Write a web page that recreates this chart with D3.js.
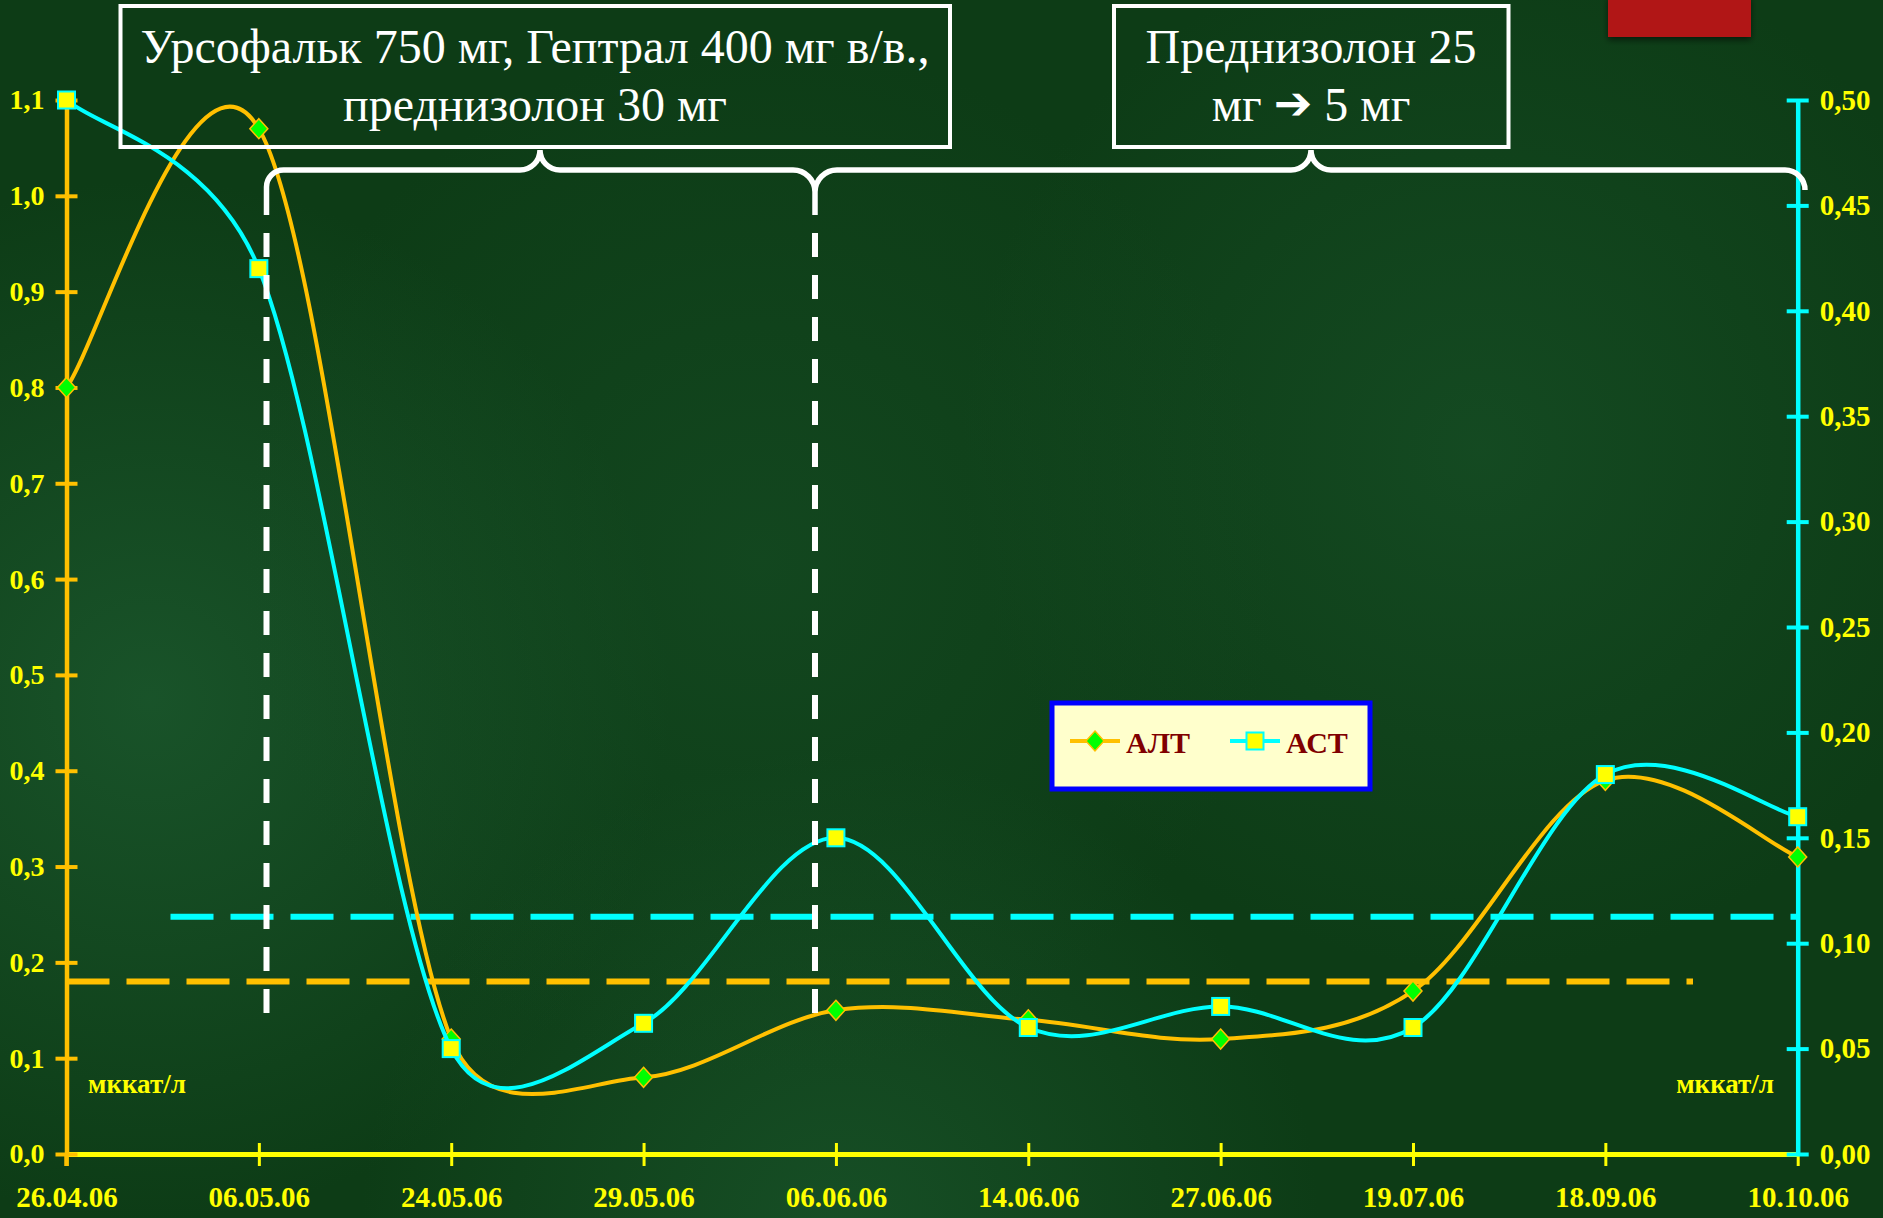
<!DOCTYPE html>
<html>
<head>
<meta charset="utf-8">
<script src="https://cdn.jsdelivr.net/npm/d3@7"></script>
<style>
  html, body { margin: 0; padding: 0; background: #0d3c16; overflow: hidden; }
  svg { display: block; }
</style>
</head>
<body>
<svg id="chart" width="1883" height="1218"></svg>
<script>
// ---- data ----
const dates = ["26.04.06", "06.05.06", "24.05.06", "29.05.06", "06.06.06",
               "14.06.06", "27.06.06", "19.07.06", "18.09.06", "10.10.06"];
const altValues = [0.80, 1.07, 0.12, 0.08, 0.15, 0.14, 0.12, 0.17, 0.39, 0.31];   // АЛТ, left axis
const astValues = [0.50, 0.42, 0.05, 0.062, 0.15, 0.06, 0.07, 0.06, 0.18, 0.16];  // АСТ, right axis
const leftTicks = [0, 0.1, 0.2, 0.3, 0.4, 0.5, 0.6, 0.7, 0.8, 0.9, 1.0, 1.1];
const leftTickLabels = ["0,0", "0,1", "0,2", "0,3", "0,4", "0,5", "0,6", "0,7", "0,8", "0,9", "1,0", "1,1"];
const rightTicks = [0, 0.05, 0.10, 0.15, 0.20, 0.25, 0.30, 0.35, 0.40, 0.45, 0.50];
const rightTickLabels = ["0,00", "0,05", "0,10", "0,15", "0,20", "0,25", "0,30", "0,35", "0,40", "0,45", "0,50"];
const altNorm = 0.18;     // upper normal limit, АЛТ (left scale)
const astNorm = 0.1125;   // upper normal limit, АСТ (right scale)
const unitLabel = "мккат/л";
const seriesNames = ["АЛТ", "АСТ"];
const therapyNotes = [
  ["Урсофальк 750 мг, Гептрал 400 мг в/в.,", "преднизолон 30 мг"],
  ["Преднизолон 25", "мг ➔ 5 мг"]
];

// ---- layout ----
const W = 1883, H = 1218;
const plot = { left: 66.5, right: 1797.7, top: 100, bottom: 1154 };
const GOLD = "#FFC000", CYAN = "#00FFFF", YELLOW = "#FFFF00";
const SERIF = "'Liberation Serif', 'Times New Roman', serif";

const svg = d3.select("#chart");
const defs = svg.append("defs");

// textured green backdrop
const spots = [
  { id: "g1", cx: 150, cy: 700, r: 520, o: 0.75 },
  { id: "g2", cx: 840, cy: 1230, r: 480, o: 0.6 },
  { id: "g3", cx: 1480, cy: 450, r: 520, o: 0.45 },
  { id: "g4", cx: 760, cy: 560, r: 520, o: 0.35 }
];
spots.forEach(s => {
  const g = defs.append("radialGradient").attr("id", s.id)
    .attr("gradientUnits", "userSpaceOnUse")
    .attr("cx", s.cx).attr("cy", s.cy).attr("r", s.r);
  g.append("stop").attr("offset", 0).attr("stop-color", "#1d5b30").attr("stop-opacity", s.o);
  g.append("stop").attr("offset", 1).attr("stop-color", "#1d5b30").attr("stop-opacity", 0);
});
const shadow = defs.append("filter").attr("id", "shadow").attr("x", -0.2).attr("y", -0.5).attr("width", 1.4).attr("height", 2);
shadow.append("feDropShadow").attr("dx", 0).attr("dy", 3).attr("stdDeviation", 3)
  .attr("flood-color", "#000").attr("flood-opacity", 0.55);

svg.append("rect").attr("width", W).attr("height", H).attr("fill", "#0d3c16");
spots.forEach(s => svg.append("rect").attr("width", W).attr("height", H).attr("fill", `url(#${s.id})`));

// red corner tab
svg.append("rect").attr("x", 1608).attr("y", -4).attr("width", 143).attr("height", 41)
  .attr("fill", "#b11616").attr("filter", "url(#shadow)");

// ---- scales ----
const x = d3.scalePoint().domain(dates).range([plot.left, plot.right]).padding(0);
const yL = d3.scaleLinear().domain([0, 1.1]).range([plot.bottom, plot.top]);
const yR = d3.scaleLinear().domain([0, 0.5]).range([plot.bottom, plot.top]);

// ---- reference (norm) lines ----
svg.append("line")
  .attr("x1", plot.left).attr("x2", 1693)
  .attr("y1", yL(altNorm)).attr("y2", yL(altNorm))
  .attr("stroke", GOLD).attr("stroke-width", 6).attr("stroke-dasharray", "43 17");
svg.append("line")
  .attr("x1", 170.5).attr("x2", plot.right)
  .attr("y1", yR(astNorm)).attr("y2", yR(astNorm))
  .attr("stroke", CYAN).attr("stroke-width", 6).attr("stroke-dasharray", "43 17");

// ---- axes ----
const xAxisG = svg.append("g").attr("transform", `translate(0,${plot.bottom})`)
  .call(d3.axisBottom(x).tickSize(0).tickSizeOuter(0).tickPadding(32));
xAxisG.select(".domain").attr("stroke", YELLOW).attr("stroke-width", 5);
xAxisG.selectAll(".tick").append("line")
  .attr("y1", -11).attr("y2", 12).attr("stroke", YELLOW).attr("stroke-width", 3);
xAxisG.selectAll("text").attr("font-family", SERIF).attr("font-weight", "bold")
  .attr("font-size", 29).attr("fill", YELLOW);

const leftAxisG = svg.append("g").attr("transform", `translate(${plot.left},0)`)
  .call(d3.axisLeft(yL).tickValues(leftTicks).tickSize(0).tickSizeOuter(0).tickPadding(22)
    .tickFormat((d, i) => leftTickLabels[i]));
leftAxisG.select(".domain").attr("stroke", GOLD).attr("stroke-width", 4.5);
leftAxisG.append("line").attr("y1", plot.bottom).attr("y2", plot.bottom + 12)
  .attr("stroke", GOLD).attr("stroke-width", 4.5);
leftAxisG.selectAll(".tick").append("line")
  .attr("x1", -11).attr("x2", 11).attr("stroke", GOLD).attr("stroke-width", 4);
leftAxisG.selectAll("text").attr("font-family", SERIF).attr("font-weight", "bold")
  .attr("font-size", 28).attr("fill", YELLOW);

const rightAxisG = svg.append("g").attr("transform", `translate(${plot.right},0)`)
  .call(d3.axisRight(yR).tickValues(rightTicks).tickSize(0).tickSizeOuter(0).tickPadding(22)
    .tickFormat((d, i) => rightTickLabels[i]));
rightAxisG.select(".domain").attr("stroke", CYAN).attr("stroke-width", 4.5);
rightAxisG.selectAll(".tick").append("line")
  .attr("x1", -11).attr("x2", 11).attr("stroke", CYAN).attr("stroke-width", 4);
rightAxisG.selectAll("text").attr("font-family", SERIF).attr("font-weight", "bold")
  .attr("font-size", 29).attr("fill", YELLOW);

// unit captions
svg.append("text").attr("x", 88).attr("y", 1093).text(unitLabel)
  .attr("font-family", SERIF).attr("font-weight", "bold").attr("font-size", 27).attr("fill", YELLOW);
svg.append("text").attr("x", 1774).attr("y", 1093).attr("text-anchor", "end").text(unitLabel)
  .attr("font-family", SERIF).attr("font-weight", "bold").attr("font-size", 27).attr("fill", YELLOW);

// ---- smoothed series (bezier with 1/6 tangents, limited to half a segment) ----
function smoothPath(pts) {
  const p = d3.path();
  p.moveTo(pts[0][0], pts[0][1]);
  const limit = (v, maxLen) => {
    const len = Math.hypot(v[0], v[1]);
    return len > maxLen ? [v[0] * maxLen / len, v[1] * maxLen / len] : v;
  };
  for (let i = 0; i < pts.length - 1; i++) {
    const p0 = pts[i - 1] || pts[i], p1 = pts[i], p2 = pts[i + 1], p3 = pts[i + 2] || pts[i + 1];
    const seg = Math.hypot(p2[0] - p1[0], p2[1] - p1[1]);
    const t1 = limit([(p2[0] - p0[0]) / 6, (p2[1] - p0[1]) / 6], seg / 2);
    const t2 = limit([(p3[0] - p1[0]) / 6, (p3[1] - p1[1]) / 6], seg / 2);
    p.bezierCurveTo(p1[0] + t1[0], p1[1] + t1[1], p2[0] - t2[0], p2[1] - t2[1], p2[0], p2[1]);
  }
  return p.toString();
}

const altPts = dates.map((d, i) => [x(d), yL(altValues[i])]);
const astPts = dates.map((d, i) => [x(d), yR(astValues[i])]);

const diamond = "M0,-10L9,0L0,10L-9,0Z";

svg.append("path").attr("d", smoothPath(altPts)).attr("fill", "none")
  .attr("stroke", GOLD).attr("stroke-width", 4).attr("stroke-linejoin", "round");
svg.append("g").selectAll("path").data(altPts).join("path")
  .attr("transform", d => `translate(${d[0]},${d[1]})`)
  .attr("d", diamond).attr("fill", "#00FF00").attr("stroke", GOLD).attr("stroke-width", 1.5);

svg.append("path").attr("d", smoothPath(astPts)).attr("fill", "none")
  .attr("stroke", CYAN).attr("stroke-width", 4).attr("stroke-linejoin", "round");
svg.append("g").selectAll("rect").data(astPts).join("rect")
  .attr("x", d => d[0] - 8.5).attr("y", d => d[1] - 8.5).attr("width", 17).attr("height", 17)
  .attr("fill", YELLOW).attr("stroke", CYAN).attr("stroke-width", 2);

// ---- therapy annotations: boxes, braces and period dividers ----
const boxes = [
  { x0: 120.5, x1: 950, cx: 535 },
  { x0: 1114, x1: 1508.5, cx: 1311 }
];
boxes.forEach((b, i) => {
  svg.append("rect").attr("x", b.x0).attr("y", 6).attr("width", b.x1 - b.x0).attr("height", 141)
    .attr("fill", "none").attr("stroke", "#fff").attr("stroke-width", 4);
  const t = svg.append("text").attr("text-anchor", "middle").attr("font-family", SERIF)
    .attr("font-size", 48).attr("fill", "#fff");
  therapyNotes[i].forEach((line, j) => {
    const ts = t.append("tspan").attr("x", b.cx).attr("y", j === 0 ? 63 : 121);
    if (line.includes("➔")) {
      const parts = line.split("➔");
      ts.text(parts[0]);
      t.append("tspan").attr("font-family", "'DejaVu Sans', sans-serif").attr("font-weight", "bold")
        .attr("font-size", 46).attr("dy", -2).text("➔");
      t.append("tspan").attr("dy", 2).text(parts[1]);
    } else {
      ts.text(line);
    }
  });
});

const div1 = 266.5, div2 = 815, tip1 = 540, tip2 = 1311, braceY = 170, tipY = 147, endX = 1805;
const brace = d3.path();
// first brace
brace.moveTo(div1, 215);
brace.lineTo(div1, braceY + 17);
brace.arcTo(div1, braceY, div1 + 17, braceY, 17);
brace.lineTo(tip1 - 20, braceY);
brace.arcTo(tip1, braceY, tip1, tipY, 20);
brace.moveTo(tip1, tipY + 3);
brace.arcTo(tip1, braceY, tip1 + 20, braceY, 20);
brace.lineTo(div2 - 22, braceY);
brace.arcTo(div2, braceY, div2, braceY + 22, 22);
brace.lineTo(div2, 215);
// second brace
brace.moveTo(div2, braceY + 22);
brace.arcTo(div2, braceY, div2 + 22, braceY, 22);
brace.lineTo(tip2 - 20, braceY);
brace.arcTo(tip2, braceY, tip2, tipY, 20);
brace.moveTo(tip2, tipY + 3);
brace.arcTo(tip2, braceY, tip2 + 20, braceY, 20);
brace.lineTo(endX - 20, braceY);
brace.arcTo(endX, braceY, endX, braceY + 20, 20);
svg.append("path").attr("d", brace.toString()).attr("fill", "none")
  .attr("stroke", "#fff").attr("stroke-width", 5.5);

[div1, div2].forEach(xx => {
  svg.append("line").attr("x1", xx).attr("x2", xx).attr("y1", 233).attr("y2", 1013)
    .attr("stroke", "#fff").attr("stroke-width", 6).attr("stroke-dasharray", "24 18");
});

// ---- legend ----
const lg = svg.append("g");
lg.append("rect").attr("x", 1052).attr("y", 703).attr("width", 318).attr("height", 86)
  .attr("fill", "#FFFFCC").attr("stroke", "#0000FF").attr("stroke-width", 5);
const legendItems = [
  { name: seriesNames[0], lx: 1070, color: GOLD, kind: "diamond" },
  { name: seriesNames[1], lx: 1230, color: CYAN, kind: "square" }
];
legendItems.forEach(it => {
  lg.append("line").attr("x1", it.lx).attr("x2", it.lx + 50).attr("y1", 741).attr("y2", 741)
    .attr("stroke", it.color).attr("stroke-width", 4);
  if (it.kind === "diamond") {
    lg.append("path").attr("transform", `translate(${it.lx + 25},741)`).attr("d", diamond)
      .attr("fill", "#00FF00").attr("stroke", GOLD).attr("stroke-width", 1.5);
  } else {
    lg.append("rect").attr("x", it.lx + 16.5).attr("y", 732.5).attr("width", 17).attr("height", 17)
      .attr("fill", YELLOW).attr("stroke", CYAN).attr("stroke-width", 2);
  }
  lg.append("text").attr("x", it.lx + 56).attr("y", 753).text(it.name)
    .attr("font-family", SERIF).attr("font-weight", "bold").attr("font-size", 30).attr("fill", "#800000");
});
</script>
</body>
</html>
